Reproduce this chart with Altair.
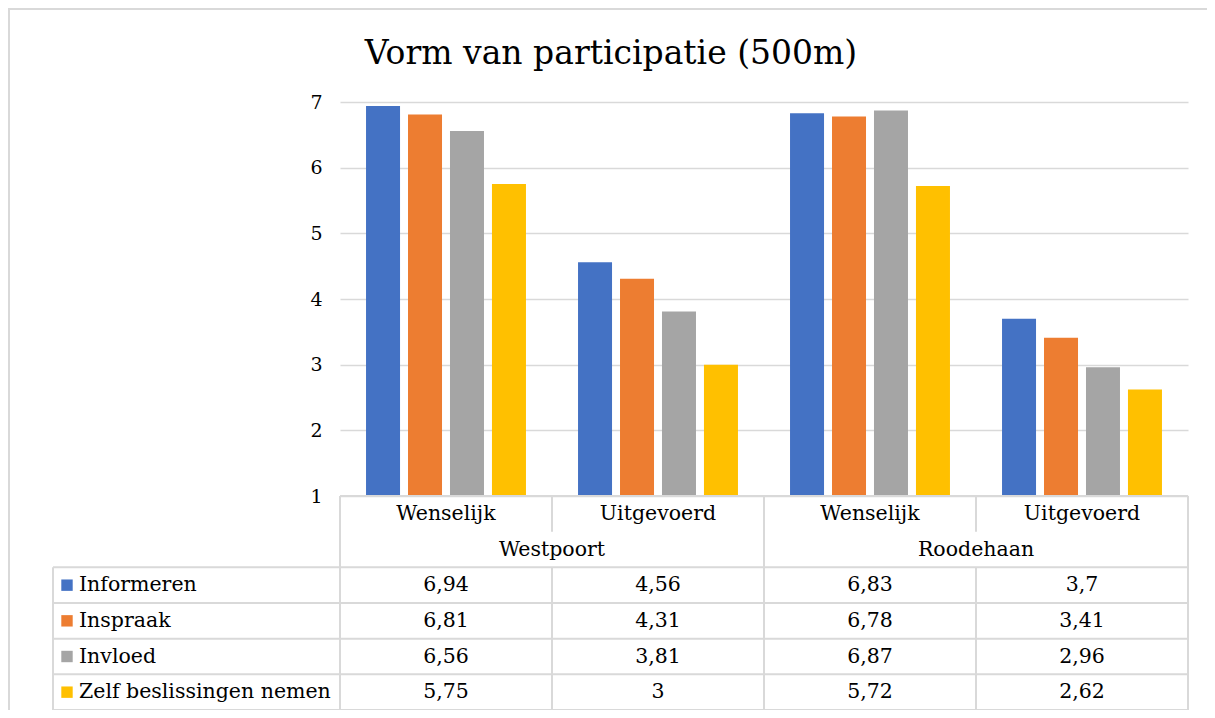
import altair as alt
import pandas as pd

# ---------------- data ----------------
title = "Vorm van participatie (500m)"
locations = ["Westpoort", "Roodehaan"]
phases = ["Wenselijk", "Uitgevoerd"]
series = ["Informeren", "Inspraak", "Invloed", "Zelf beslissingen nemen"]
colors = ["#4472C4", "#ED7D31", "#A5A5A5", "#FFC000"]
# columns: Westpoort-Wenselijk, Westpoort-Uitgevoerd, Roodehaan-Wenselijk, Roodehaan-Uitgevoerd
informeren = [6.94, 4.56, 6.83, 3.7]
inspraak = [6.81, 4.31, 6.78, 3.41]
invloed = [6.56, 3.81, 6.87, 2.96]
zelf = [5.75, 3.0, 5.72, 2.62]
y_ticks = [1, 2, 3, 4, 5, 6, 7]

values = [informeren, inspraak, invloed, zelf]

# ---------------- layout / style ----------------
W, H = 848, 394          # bar plot area
TABLE_H = 214            # data table below the plot
LEFT_PAD, TOP_PAD = 332, 94
RIGHT_PAD = 1199 - LEFT_PAD - W
BOTTOM_PAD = 702 - TOP_PAD - H
FONT = "DejaVu Serif"
TXT = "#000000"
LINE = "#D9D9D9"
L = 287 / 212            # legend column width in data-column units

col_keys = [f"{l}|{p}" for l in locations for p in phases]
n_cols = len(col_keys)
n_rows = 2 + len(series)


def fmt(v):
    return f"{v:g}".replace(".", ",")


rows = []
for si, s in enumerate(series):
    for ci, ck in enumerate(col_keys):
        v = values[si][ci]
        rows.append(dict(col=ck, ci=ci, series=s, si=si, value=v, label=fmt(v),
                         tx=ci + 0.5, ty=si + 2.5))
df = pd.DataFrame(rows)

hdr = pd.DataFrame([dict(tx=ci + 0.5, ty=0.5, text=ck.split("|")[1]) for ci, ck in enumerate(col_keys)])
grp = pd.DataFrame([dict(tx=gi * len(phases) + len(phases) / 2, ty=1.5, text=l) for gi, l in enumerate(locations)])
leg = pd.DataFrame([dict(series=s, ty=si + 2.5, sx=-L + 14 / 212, lx=-L + 26 / 212) for si, s in enumerate(series)])

lines = [dict(x=0, x2=n_cols, y=0, y2=0)]
for r in range(2, n_rows + 1):
    lines.append(dict(x=-L, x2=n_cols, y=r, y2=r))
for c in range(0, n_cols + 1, len(phases)):
    lines.append(dict(x=c, x2=c, y=0, y2=n_rows))
for c in range(1, n_cols, len(phases)):
    lines.append(dict(x=c, x2=c, y=0, y2=1))
    lines.append(dict(x=c, x2=c, y=2, y2=n_rows))
lines.append(dict(x=-L, x2=-L, y=2, y2=n_rows))
lines_df = pd.DataFrame(lines)

# ---------------- scales ----------------
tx = alt.Scale(domain=[0, n_cols], nice=False, zero=False)
ty = alt.Scale(domain=[0, n_rows], range=[H, H + TABLE_H], nice=False, zero=False)
color_scale = alt.Scale(domain=series, range=colors)

# ---------------- layers ----------------
bars = alt.Chart(df).mark_bar().encode(
    x=alt.X("col:N", sort=col_keys,
            scale=alt.Scale(domain=col_keys, paddingInner=0, paddingOuter=0), axis=None),
    xOffset=alt.XOffset("series:N", sort=series,
                        scale=alt.Scale(domain=series, paddingInner=0.19, paddingOuter=0.62)),
    y=alt.Y("value:Q", scale=alt.Scale(domain=[1, 7], nice=False, zero=False),
            axis=alt.Axis(values=y_ticks, title=None, domain=False, ticks=False,
                          labelPadding=18, labelFont=FONT, labelFontSize=19,
                          labelColor=TXT, grid=True, gridColor=LINE, gridWidth=1.5)),
    y2=alt.datum(1),
    color=alt.Color("series:N", scale=color_scale, legend=None),
)

table_lines = alt.Chart(lines_df).mark_rule(color=LINE, strokeWidth=2).encode(
    x=alt.X("x:Q", scale=tx, axis=None),
    x2="x2:Q",
    y=alt.Y("y:Q", scale=ty, axis=None),
    y2="y2:Q",
)

text_kw = dict(font=FONT, fontSize=20.5, color=TXT, baseline="middle")

hdr_text = alt.Chart(hdr).mark_text(align="center", **text_kw).encode(
    x=alt.X("tx:Q", scale=tx, axis=None),
    y=alt.Y("ty:Q", scale=ty, axis=None),
    text="text:N",
)
grp_text = alt.Chart(grp).mark_text(align="center", **text_kw).encode(
    x=alt.X("tx:Q", scale=tx, axis=None),
    y=alt.Y("ty:Q", scale=ty, axis=None),
    text="text:N",
)
val_text = alt.Chart(df).mark_text(align="center", **text_kw).encode(
    x=alt.X("tx:Q", scale=tx, axis=None),
    y=alt.Y("ty:Q", scale=ty, axis=None),
    text="label:N",
)
leg_sq = alt.Chart(leg).mark_square(size=130, opacity=1, filled=True).encode(
    x=alt.X("sx:Q", scale=tx, axis=None),
    y=alt.Y("ty:Q", scale=ty, axis=None),
    color=alt.Color("series:N", scale=color_scale, legend=None),
)
leg_text = alt.Chart(leg).mark_text(align="left", **text_kw).encode(
    x=alt.X("lx:Q", scale=tx, axis=None),
    y=alt.Y("ty:Q", scale=ty, axis=None),
    text="series:N",
)

border_df = pd.DataFrame([{"k": 0}])
border_top = alt.Chart(border_df).mark_rule(color=LINE, strokeWidth=2).encode(
    x=alt.value(-LEFT_PAD), x2=alt.value(W + RIGHT_PAD), y=alt.value(-TOP_PAD + 1))
border_left = alt.Chart(border_df).mark_rule(color=LINE, strokeWidth=2).encode(
    x=alt.value(-LEFT_PAD + 1), y=alt.value(-TOP_PAD), y2=alt.value(H + BOTTOM_PAD))

chart = alt.layer(
    bars, table_lines, hdr_text, grp_text, val_text, leg_sq, leg_text, border_top, border_left
).resolve_scale(
    x="independent", y="independent", color="shared"
).properties(
    width=W, height=H,
    title=alt.TitleParams(title, font=FONT, fontSize=33, fontWeight="normal", color=TXT,
                          anchor="middle", baseline="alphabetic", dx=-153, offset=0, dy=90),
    padding={"left": LEFT_PAD, "top": TOP_PAD, "right": RIGHT_PAD, "bottom": BOTTOM_PAD},
    autosize=alt.AutoSizeParams(type="none"),
).configure_view(stroke=None)

chart.save("out.html", embed_options={"renderer": "svg", "actions": False})
